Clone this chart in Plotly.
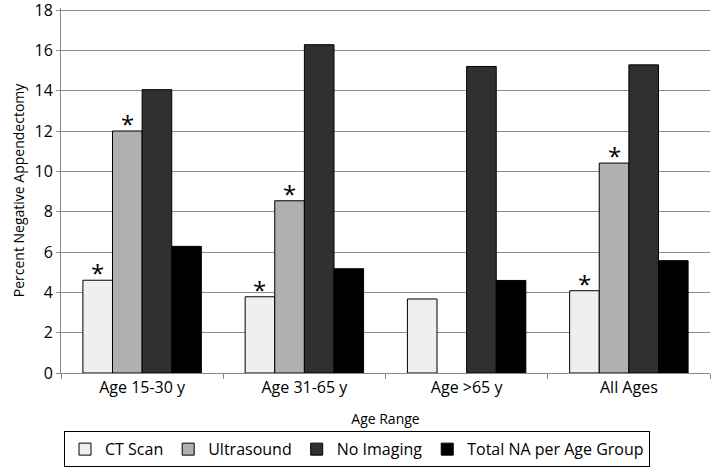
import plotly.graph_objects as go

categories = ["Age 15-30 y", "Age 31-65 y", "Age >65 y", "All Ages"]
ct_scan = [4.6, 3.78, 3.67, 4.08]
ultrasound = [12.0, 8.54, None, 10.41]
no_imaging = [14.05, 16.28, 15.2, 15.28]
total_na = [6.28, 5.17, 4.59, 5.57]
ct_sig = [True, True, False, True]
us_sig = [True, True, False, True]
y_ticks = [0, 2, 4, 6, 8, 10, 12, 14, 16, 18]

series = [
    ("CT Scan", ct_scan, "#efefef"),
    ("Ultrasound", ultrasound, "#b0b0b0"),
    ("No Imaging", no_imaging, "#303030"),
    ("Total NA per Age Group", total_na, "#000000"),
]

FONT = "Open Sans"
L, R, T, B = 61, 4, 8, 98
W, H = 714, 471
BARGAP = 0.27

fig = go.Figure()
for name, vals, col in series:
    fig.add_trace(go.Bar(
        name=name, x=categories, y=vals,
        marker=dict(color=col, line=dict(color="#000000", width=1)),
    ))

# asterisks above significant bars
plot_w = W - L - R
cat_w = plot_w / len(categories)
bar_w = cat_w * (1 - BARGAP) / len(series)
for idx, (sig, vals) in enumerate([(ct_sig, ct_scan), (us_sig, ultrasound)]):
    offset = (idx - (len(series) - 1) / 2) * bar_w
    for c, s, v in zip(categories, sig, vals):
        if s and v is not None:
            fig.add_annotation(x=c, y=v, text="*", showarrow=False,
                               xshift=offset, yshift=-11, yanchor="bottom",
                               font=dict(family=FONT, size=24, color="#000000"))

fig.update_layout(
    width=W, height=H,
    margin=dict(l=L, r=R, t=T, b=B, autoexpand=False),
    paper_bgcolor="white", plot_bgcolor="white",
    barmode="group", bargap=BARGAP, bargroupgap=0,
    font=dict(family=FONT, color="#000000"),
    showlegend=True,
    legend=dict(orientation="h", xref="container", yref="container",
                x=0.5, xanchor="center", y=0.008, yanchor="bottom",
                bordercolor="#000000", borderwidth=1,
                font=dict(family=FONT, size=16, color="#000000"),
                itemwidth=30, traceorder="normal"),
)
fig.update_xaxes(
    title=dict(text="Age Range", font=dict(family=FONT, size=14), standoff=16),
    tickfont=dict(family=FONT, size=16, color="#000000"),
    showline=True, linecolor="#888888", linewidth=1,
    ticks="outside", tickson="boundaries", ticklen=5, tickcolor="#888888",
    showgrid=False,
)
fig.update_yaxes(
    title=dict(text="Percent Negative Appendectomy", font=dict(family=FONT, size=14), standoff=6),
    tickfont=dict(family=FONT, size=16, color="#000000"),
    range=[0, 18.1], tickvals=y_ticks, ticklabeloverflow="allow",
    showline=True, linecolor="#888888", linewidth=1,
    ticks="outside", ticklen=4, tickcolor="#888888",
    showgrid=True, gridcolor="#8c8c8c", gridwidth=1,
    zeroline=False,
)

fig.write_html("out.html", config={"displayModeBar": False},
               post_script="document.body.style.margin='0';document.body.style.overflow='hidden';")
